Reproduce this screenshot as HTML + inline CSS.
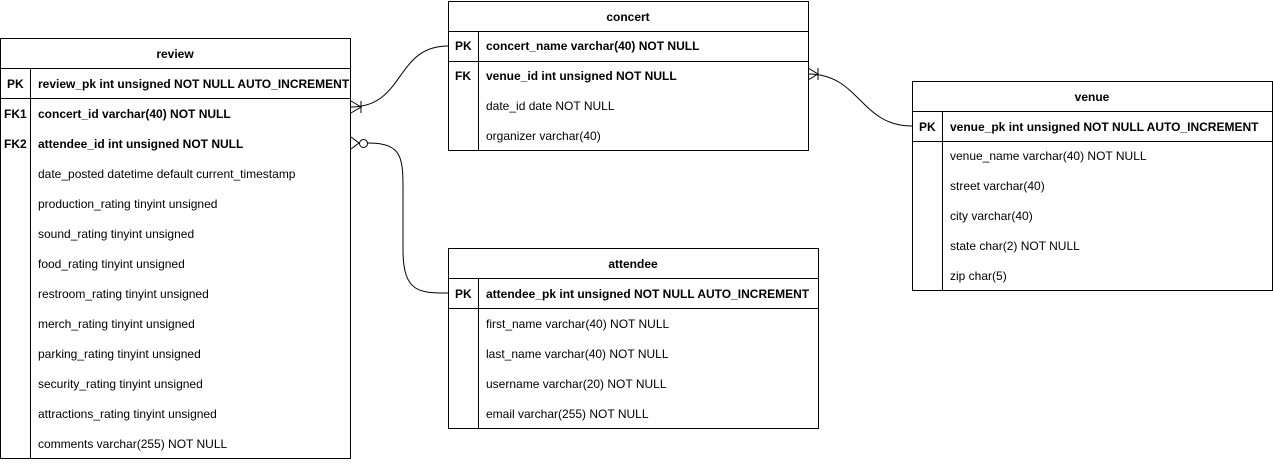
<!DOCTYPE html>
<html><head><style>
body{margin:0;background:#fff;width:1273px;height:459px;overflow:hidden}
svg text{font-family:"Liberation Sans",Arial,sans-serif;font-size:12px;fill:#000}
.b{font-weight:bold}
</style></head><body>
<svg width="1273" height="459" xmlns="http://www.w3.org/2000/svg">
<g fill="none" stroke="#000" stroke-width="1">
<!-- review -->
<rect x="0.5" y="38.5" width="350" height="420"/>
<line x1="0.5" y1="68.5" x2="350.5" y2="68.5"/>
<line x1="0.5" y1="98.5" x2="350.5" y2="98.5"/>
<line x1="30.5" y1="68.5" x2="30.5" y2="458.5"/>
<!-- concert -->
<rect x="448.5" y="1.5" width="360" height="149"/>
<line x1="448.5" y1="31.5" x2="808.5" y2="31.5"/>
<line x1="448.5" y1="61.5" x2="808.5" y2="61.5"/>
<line x1="478.5" y1="31.5" x2="478.5" y2="150.5"/>
<!-- venue -->
<rect x="912.5" y="81.5" width="360" height="209"/>
<line x1="912.5" y1="111.5" x2="1272.5" y2="111.5"/>
<line x1="912.5" y1="141.5" x2="1272.5" y2="141.5"/>
<line x1="942.5" y1="111.5" x2="942.5" y2="290.5"/>
<!-- attendee -->
<rect x="448.5" y="248.5" width="370" height="180"/>
<line x1="448.5" y1="278.5" x2="818.5" y2="278.5"/>
<line x1="448.5" y1="308.5" x2="818.5" y2="308.5"/>
<line x1="478.5" y1="278.5" x2="478.5" y2="428.5"/>
<!-- connectors -->
<path d="M351,107 C405,107 395,46 448,46"/>
<path d="M351,101 L361,107 L351,113 M361,101 L361,113"/>
<path d="M368,143 C405,143 403,160 403,200 L403,250 C403,293 420,293 448,293"/>
<circle cx="363.5" cy="143.5" r="4"/>
<path d="M351,137 L359,143 L351,149"/>
<path d="M808,74 C860,74 860,126 912,126"/>
<path d="M808,68 L818,74 L808,80 M818,68 L818,80"/>
</g>
<text class="b" x="175" y="58" text-anchor="middle">review</text>
<text class="b" x="7" y="88">PK</text><text class="b" x="38" y="88">review_pk int unsigned NOT NULL AUTO_INCREMENT</text>
<text class="b" x="4" y="118">FK1</text><text class="b" x="38" y="118">concert_id varchar(40) NOT NULL</text>
<text class="b" x="4" y="148">FK2</text><text class="b" x="38" y="148">attendee_id int unsigned NOT NULL</text>
<text x="38" y="178">date_posted datetime default current_timestamp</text>
<text x="38" y="208">production_rating tinyint unsigned</text>
<text x="38" y="238">sound_rating tinyint unsigned</text>
<text x="38" y="268">food_rating tinyint unsigned</text>
<text x="38" y="298">restroom_rating tinyint unsigned</text>
<text x="38" y="328">merch_rating tinyint unsigned</text>
<text x="38" y="358">parking_rating tinyint unsigned</text>
<text x="38" y="388">security_rating tinyint unsigned</text>
<text x="38" y="418">attractions_rating tinyint unsigned</text>
<text x="38" y="448">comments varchar(255) NOT NULL</text>

<text class="b" x="628" y="21" text-anchor="middle">concert</text>
<text class="b" x="455" y="50">PK</text><text class="b" x="486" y="50">concert_name varchar(40) NOT NULL</text>
<text class="b" x="455" y="80">FK</text><text class="b" x="486" y="80">venue_id int unsigned NOT NULL</text>
<text x="486" y="110">date_id date NOT NULL</text>
<text x="486" y="140">organizer varchar(40)</text>

<text class="b" x="1092" y="101" text-anchor="middle">venue</text>
<text class="b" x="919" y="131">PK</text><text class="b" x="950" y="131">venue_pk int unsigned NOT NULL AUTO_INCREMENT</text>
<text x="950" y="160">venue_name varchar(40) NOT NULL</text>
<text x="950" y="190">street varchar(40)</text>
<text x="950" y="220">city varchar(40)</text>
<text x="950" y="250">state char(2) NOT NULL</text>
<text x="950" y="280">zip char(5)</text>

<text class="b" x="633" y="268" text-anchor="middle">attendee</text>
<text class="b" x="455" y="298">PK</text><text class="b" x="486" y="298">attendee_pk int unsigned NOT NULL AUTO_INCREMENT</text>
<text x="486" y="328">first_name varchar(40) NOT NULL</text>
<text x="486" y="358">last_name varchar(40) NOT NULL</text>
<text x="486" y="388">username varchar(20) NOT NULL</text>
<text x="486" y="418">email varchar(255) NOT NULL</text>
</svg>
</body></html>
